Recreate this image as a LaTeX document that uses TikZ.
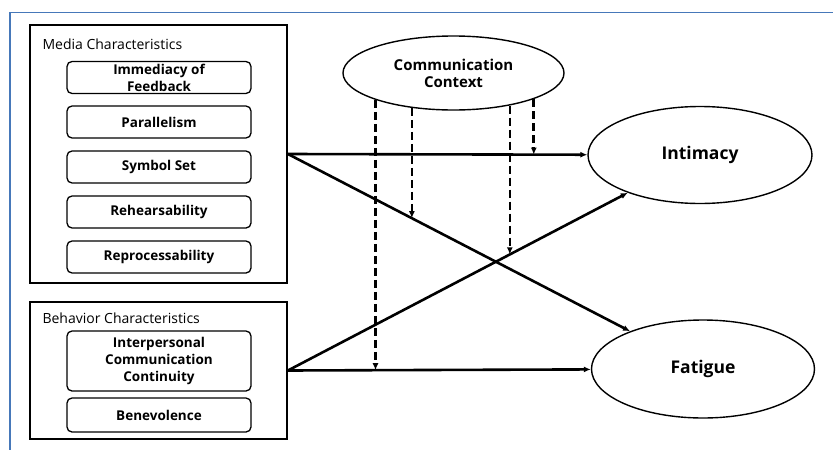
\documentclass[tikz,border=0pt]{standalone}
\usepackage{fontspec}
\setmainfont{Open Sans}
\usepackage{tikz}
\usetikzlibrary{arrows.meta,positioning,shapes.geometric,intersections}
\definecolor{frameblue}{RGB}{70,120,185}

\begin{document}
\begin{tikzpicture}[
  x=1pt, y=-1pt,
  >={Latex[length=7pt,width=6pt]},
  group/.style={draw, line width=1.8pt, minimum width=257, inner sep=0pt},
  grouplbl/.style={anchor=west, font=\fontsize{14}{16}\selectfont},
  item/.style={draw, line width=1.3pt, rounded corners=5pt, minimum width=184,
               minimum height=32, inner sep=0pt, align=center,
               font=\fontsize{13.5}{17}\selectfont\bfseries},
  outcome/.style={draw, ellipse, line width=1.4pt, inner sep=0pt,
                  font=\fontsize{17.5}{20}\selectfont\bfseries},
  direct/.style={->, line width=2.6pt},
  mod/.style={->, line width=2.6pt, dash pattern=on 8pt off 4pt}
]

% ---- frame ----
\useasboundingbox (0,0) rectangle (833,450);
\draw[frameblue, line width=1.3pt] (833,12.5) -- (10,12.5) -- (10,450);

% ---- Media Characteristics ----
\node[group, minimum height=258] (mc) at (158.5,154) {};
\node[grouplbl] (mclbl) at (39,44) {Media Characteristics};
\foreach \y/\nm/\lbl in {77.5/imm/Immediacy of\\Feedback, 122/par/Parallelism,
                         167/sym/Symbol Set, 212/reh/Rehearsability,
                         257/rep/Reprocessability} {
  \node[item] (\nm) at (159,\y) {\lbl};
}

% ---- Behavior Characteristics ----
\node[group, minimum height=137] (bc) at (158.5,370.5) {};
\node[grouplbl] (bclbl) at (39,318) {Behavior Characteristics};
\node[item, minimum height=60] (icc) at (159,361)
  {Interpersonal\\Communication\\Continuity};
\node[item, minimum height=34] (ben) at (159,415) {Benevolence};

% ---- outcomes and context ----
\node[outcome, minimum width=221, minimum height=74,
      font=\fontsize{15}{17}\selectfont\bfseries, align=center] (cc) at (453.5,73)
  {Communication\\Context};
\node[outcome, minimum width=224, minimum height=97] (int) at (700,155) {Intimacy};
\node[outcome, minimum width=223, minimum height=98] (fat) at (703,369) {Fatigue};

% ---- direct paths ----
\draw[direct, name path=mi] (mc.east) -- (int);
\draw[direct, name path=mf] (mc.east) -- (fat);
\draw[direct, name path=bi] (bc.east) -- (int);
\draw[direct, name path=bf] (bc.east) -- (fat);

% ---- moderating paths ----
\path[name path=vone] (cc.199) -- ++(0,400);
\path[name path=vtwo] (cc.220) -- ++(0,400);
\path[name path=vthree] (cc.330) -- ++(0,400);
\path[name path=vfour] (cc.342) -- ++(0,400);
\path[name intersections={of=vone and bf, by=tone}];
\path[name intersections={of=vtwo and mf, by=ttwo}];
\path[name intersections={of=vthree and bi, by=tthree}];
\path[name intersections={of=vfour and mi, by=tfour}];
\draw[mod] (cc.199) -- (tone);
\draw[mod] (cc.220) -- (ttwo);
\draw[mod] (cc.330) -- (tthree);
\draw[mod] (cc.342) -- (tfour);

\end{tikzpicture}
\end{document}
